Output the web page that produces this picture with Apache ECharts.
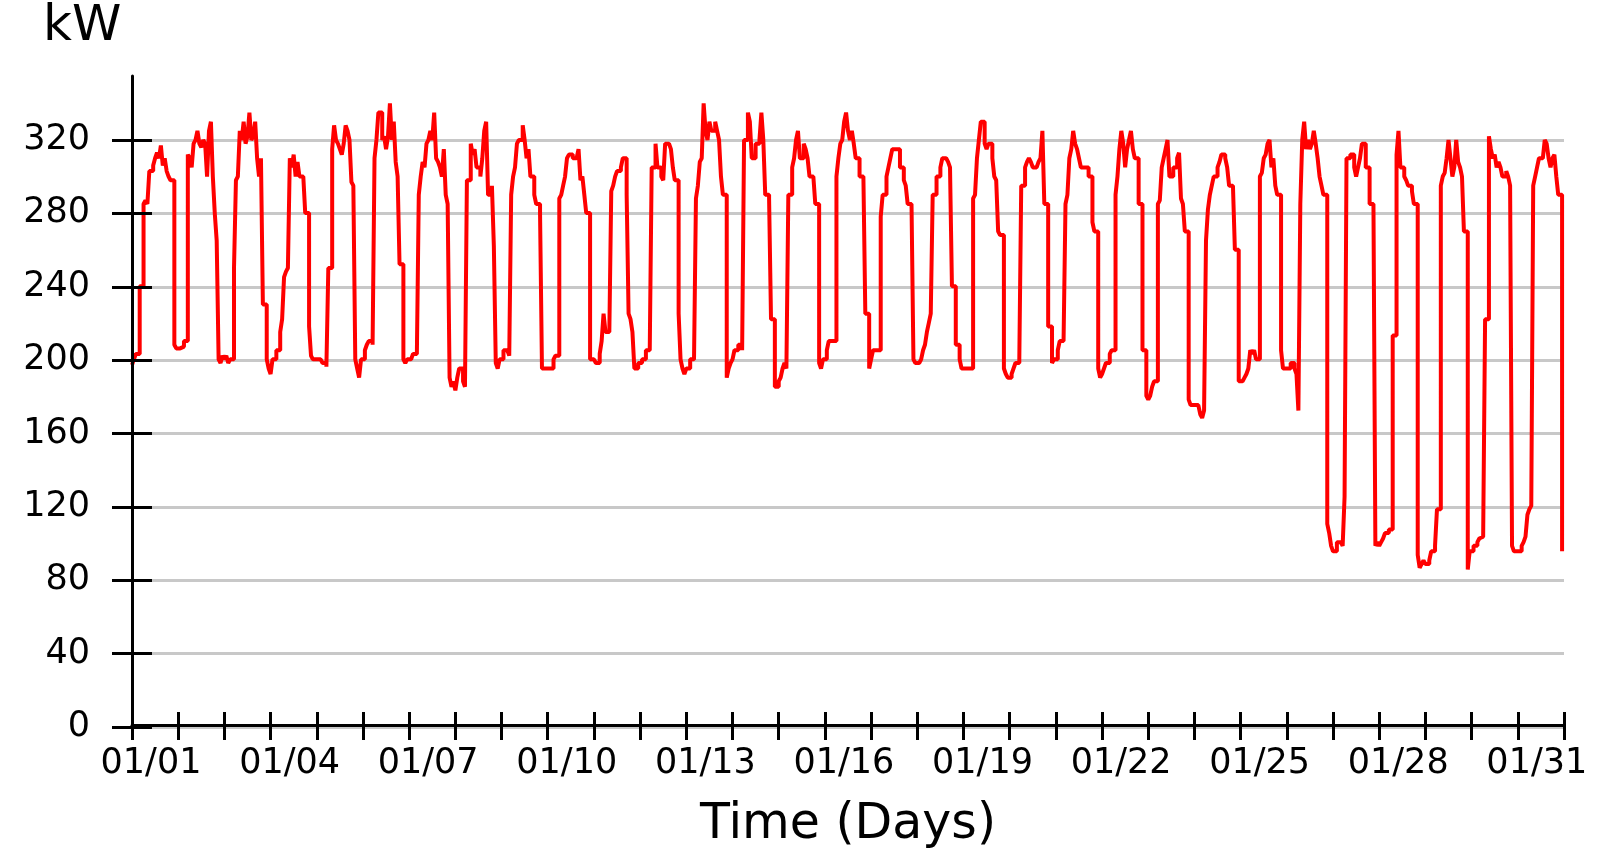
<!DOCTYPE html>
<html>
<head>
<meta charset="utf-8">
<script src="https://cdn.jsdelivr.net/npm/echarts@6/dist/echarts.min.js"></script>
<style>
html,body{margin:0;padding:0;background:#fff;}
#chart{width:1610px;height:855px;}
</style>
</head>
<body>
<div id="chart"></div>
<script>
// Hourly kW readings, one array per day (hour 0..23)
const jan01 = [197,200,203,203,240,240,285,287,285,303,303,306,310,313,310,317,306,310,303,300,298,298,208,206];
const jan02 = [206,206,207,210,210,312,310,305,318,320,325,318,316,320,318,300,325,330,300,280,265,200,198,202];
const jan03 = [200,202,198,200,200,250,298,300,325,320,330,318,322,335,320,322,330,310,300,310,230,230,200,195];
const jan04 = [192,200,200,205,205,215,222,245,248,250,310,305,312,300,308,300,300,300,280,280,218,202,200,200];
const jan05 = [200,200,200,198,198,196,250,250,315,328,320,318,315,312,318,328,325,320,297,295,200,195,190,200];
const jan06 = [200,205,208,210,210,208,310,320,335,335,320,322,315,322,340,320,330,308,300,252,252,200,198,200];
const jan07 = [200,200,203,203,203,290,300,308,305,318,320,325,320,335,310,308,305,300,315,290,285,190,185,188];
const jan08 = [183,190,195,195,188,185,298,298,318,312,315,305,305,300,310,325,330,290,290,295,262,198,195,200];
const jan09 = [200,205,205,205,202,290,300,305,318,320,320,328,320,310,315,300,300,290,285,285,280,195,195,195];
const jan10 = [195,195,195,200,202,202,288,290,295,300,310,312,312,310,310,310,315,298,300,290,280,280,200,200];
const jan11 = [200,198,198,203,210,225,215,215,215,292,295,300,303,303,305,310,310,290,225,222,215,195,195,198];
const jan12 = [198,200,200,205,205,205,305,305,318,305,305,300,298,318,318,318,315,305,298,298,225,200,195,192];
const jan13 = [195,195,200,200,200,288,295,308,310,340,325,320,330,325,325,330,325,320,300,290,290,190,195,198];
const jan14 = [200,205,205,208,208,205,320,320,335,330,310,310,318,318,320,335,320,290,290,288,222,222,185,185];
const jan15 = [188,190,195,198,195,290,290,305,310,320,325,310,310,318,315,310,300,300,300,285,285,198,195,200];
const jan16 = [200,205,210,210,210,210,300,310,318,320,330,335,325,320,325,318,310,310,300,300,300,225,225,195];
const jan17 = [200,205,205,205,205,278,290,290,300,305,310,315,315,315,315,305,305,298,295,285,285,285,200,198];
const jan18 = [198,198,200,205,208,215,220,225,290,290,300,300,305,310,310,310,308,305,240,240,208,208,200,195];
const jan19 = [195,195,195,195,195,288,290,310,320,330,330,318,315,318,318,310,300,298,270,268,268,195,192,190];
const jan20 = [190,192,195,198,198,200,295,295,305,308,310,308,305,305,305,308,310,325,285,285,218,218,198,200];
const jan21 = [200,205,210,210,210,285,290,310,315,325,318,315,310,305,305,305,305,300,300,275,270,270,195,190];
const jan22 = [192,195,198,198,203,205,205,290,300,315,325,318,305,315,320,325,315,310,310,285,285,205,205,180];
const jan23 = [178,180,185,188,188,285,287,305,310,315,320,300,300,305,305,310,313,288,285,270,270,178,175,175];
const jan24 = [175,175,175,170,168,172,265,282,290,295,300,300,305,308,312,312,310,305,295,295,295,260,260,188];
const jan25 = [188,188,190,192,195,205,203,205,200,200,300,302,310,312,318,320,305,310,295,290,290,205,195,195];
const jan26 = [195,195,198,198,195,192,172,285,320,330,315,320,315,318,325,318,310,300,295,290,290,110,105,98];
const jan27 = [95,95,100,100,100,98,125,310,310,312,312,305,300,305,310,318,318,305,305,285,285,285,98,100];
const jan28 = [98,100,102,105,105,107,107,213,213,312,325,305,305,300,298,295,295,292,285,285,93,86,88,90];
const jan29 = [88,88,90,95,95,98,118,118,295,300,302,310,320,310,300,305,320,308,305,300,270,270,85,95];
const jan30 = [95,98,98,100,102,103,103,222,222,322,315,310,312,305,308,305,300,300,303,300,295,98,95,95];
const jan31 = [95,95,98,100,103,115,118,120,295,300,305,310,310,310,320,318,310,305,310,312,300,290,290,95];

const dayProfiles = [jan01,jan02,jan03,jan04,jan05,jan06,jan07,jan08,jan09,jan10,jan11,jan12,jan13,jan14,jan15,jan16,
  jan17,jan18,jan19,jan20,jan21,jan22,jan23,jan24,jan25,jan26,jan27,jan28,jan29,jan30,jan31];

const dateLabels = ['01/01','01/04','01/07','01/10','01/13','01/16','01/19','01/22','01/25','01/28','01/31'];

// build [dayPosition, kW] pairs
const seriesData = [];
dayProfiles.forEach(function (arr, d) {
  arr.forEach(function (v, h) { seriesData.push([d + h / 24, v]); });
});

const FONT = 'DejaVu Sans';
const chart = echarts.init(document.getElementById('chart'), null, {renderer: 'canvas'});
chart.setOption({
  backgroundColor: '#ffffff',
  animation: false,
  title: {
    text: 'kW', left: 38, top: -3,
    textStyle: {fontFamily: FONT, fontSize: 50, fontWeight: 'normal', color: '#000'}
  },
  grid: [
    {left: 132, width: 1432, top: 76, height: 651, containLabel: false},
    {left: 132, width: 1432, top: 140, height: 587, containLabel: false}
  ],
  xAxis: [
    {
      gridIndex: 0, type: 'value', min: 0, max: 31, interval: 1, z: 5,
      axisLine: {show: true, onZero: false, lineStyle: {color: '#000', width: 3}},
      axisTick: {show: true, inside: false, length: 15, lineStyle: {color: '#000', width: 3}},
      splitLine: {show: false},
      axisLabel: {
        show: true, margin: 21, fontFamily: FONT, fontSize: 35, color: '#000',
        padding: [0, 0, 0, 38],
        formatter: function (v) { return (v % 3 === 0) ? (dateLabels[v / 3] || '') : ''; }
      },
      name: 'Time (Days)', nameLocation: 'middle', nameGap: 76,
      nameTextStyle: {fontFamily: FONT, fontSize: 49, color: '#000'}
    },
    {
      gridIndex: 1, type: 'value', min: 0, max: 31, interval: 1, z: 5,
      axisLine: {show: false},
      axisTick: {show: true, inside: true, length: 15, lineStyle: {color: '#000', width: 3}},
      splitLine: {show: false},
      axisLabel: {show: false}
    }
  ],
  yAxis: [
    {
      gridIndex: 0, type: 'value', min: 0, max: 355, position: 'left', z: 5,
      axisLine: {show: true, onZero: false, lineStyle: {color: '#000', width: 3}},
      axisTick: {show: false}, axisLabel: {show: false}, splitLine: {show: false}
    },
    {
      gridIndex: 1, type: 'value', min: 0, max: 320, interval: 40, position: 'left',
      axisLine: {show: false},
      axisTick: {show: true, inside: false, length: 20, lineStyle: {color: '#000', width: 3}},
      axisLabel: {show: true, margin: 42, fontFamily: FONT, fontSize: 35, color: '#000'},
      splitLine: {show: true, lineStyle: {color: '#c8c8c8', width: 3}}
    },
    {
      gridIndex: 1, type: 'value', min: 0, max: 320, interval: 40, position: 'left', z: 4,
      axisLine: {show: false},
      axisTick: {show: true, inside: true, length: 20, lineStyle: {color: '#000', width: 3}},
      axisLabel: {show: false}, splitLine: {show: false}
    }
  ],
  series: [{
    type: 'line', xAxisIndex: 0, yAxisIndex: 0,
    data: seriesData, step: 'end', showSymbol: false, symbol: 'none',
    lineStyle: {color: '#ff0000', width: 4}, z: 3
  }]
});
</script>
</body>
</html>
